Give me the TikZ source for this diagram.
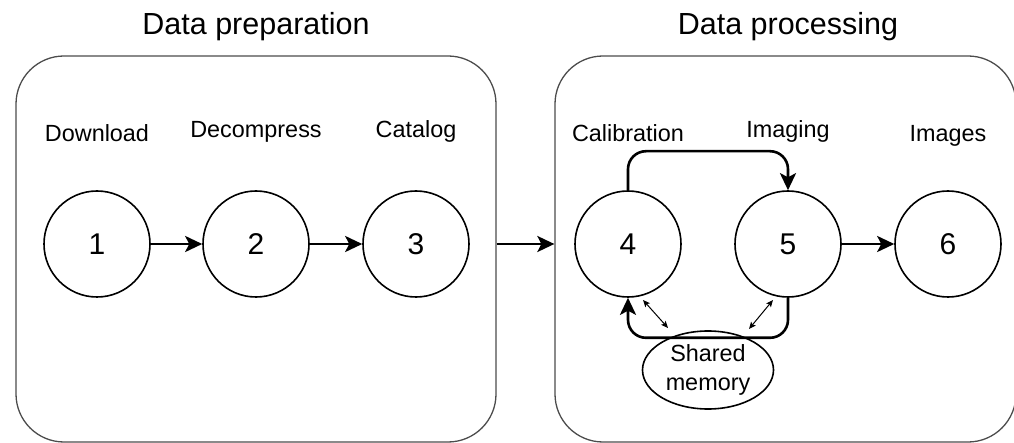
\documentclass[tikz,border=0pt]{standalone}
\usepackage{fontspec}
\setmainfont{Liberation Sans}
\usetikzlibrary{arrows.meta,shapes.geometric}
\begin{document}
\begin{tikzpicture}[x=1pt,y=-1pt,
  group/.style={draw=black!70,line width=1.3pt,rounded corners=48pt,minimum width=#1,minimum height=386pt,inner sep=0pt},
  stage/.style={draw,circle,line width=1.6pt,minimum size=106pt,inner sep=0pt,font=\fontsize{30}{30}\selectfont},
  caption/.style={anchor=base,inner sep=0pt,font=\fontsize{23.4}{26}\selectfont},
  heading/.style={anchor=base,inner sep=0pt,font=\fontsize{30.5}{32}\selectfont},
  flow/.style={line width=2.6pt,-{Stealth[length=17pt,width=16pt,inset=4pt]}},
  link/.style={line width=1pt,{Stealth[length=7pt,width=6pt,inset=1.5pt]}-{Stealth[length=7pt,width=6pt,inset=1.5pt]}}]
\useasboundingbox (0,0) rectangle (1014,443);

% the two stage groups
\node[group=480pt] (prep) at (256,249) {};
\node[group=461pt] (proc) at (785.5,249) {};
\node[heading] (tprep) at (256,35) {Data preparation};
\node[heading] (tproc) at (788,35) {Data processing};

% preparation stages
\node[stage] (n1) at (97,244) {1};
\node[stage] (n2) at (256,244) {2};
\node[stage] (n3) at (416,244) {3};
\node[caption] (c1) at (97,142) {Download};
\node[caption] (c2) at (256,138) {Decompress};
\node[caption] (c3) at (416,138) {Catalog};

% processing stages
\node[stage] (n4) at (628,244) {4};
\node[stage] (n5) at (788,244) {5};
\node[stage] (n6) at (948,244) {6};
\node[caption] (c4) at (628,142) {Calibration};
\node[caption] (c5) at (788,138) {Imaging};
\node[caption] (c6) at (948,142) {Images};

\node[draw,ellipse,line width=1.6pt,minimum width=131pt,minimum height=78pt,inner sep=0pt,
      align=center,font=\fontsize{23.4}{29}\selectfont] (mem) at (708,370) {Shared\\memory};

% connectors
\draw[flow] (n1) -- (n2);
\draw[flow] (n2) -- (n3);
\draw[flow] (prep.east |- n3.center) -- (proc.west |- n4.center);
\draw[flow] (n5) -- (n6);
\draw[flow,rounded corners=18pt] (n4.north) -- ++(0,-39) -| (n5.north);
\draw[flow,rounded corners=18pt] (n5.south) -- ++(0,40) -| (n4.south);

% access to shared memory
\coordinate (a4) at (643,300);
\coordinate (m4) at (668,328);
\coordinate (a5) at (773,300);
\coordinate (m5) at (749,329);
\draw[link] (a4) -- (m4);
\draw[link] (a5) -- (m5);
\end{tikzpicture}
\end{document}
